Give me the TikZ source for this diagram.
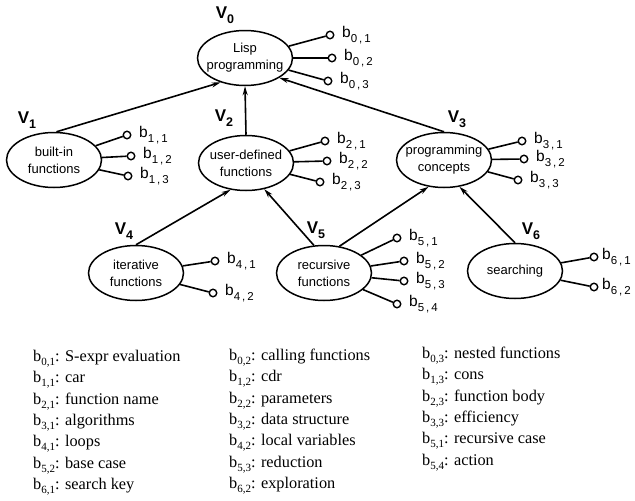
\documentclass[tikz,border=0pt]{standalone}
\usepackage{fontspec}
\setmainfont{Liberation Serif}
\setsansfont{Liberation Sans}
\usetikzlibrary{positioning,arrows.meta,shapes.geometric}

\newcommand{\attrb}[2]{b\raisebox{-5.5pt}{\fontsize{11.5}{11.5}\selectfont #1\hspace{2pt},\hspace{2pt}#2}}
\newcommand{\vname}[1]{V\raisebox{-4.5pt}{\fontsize{12.5}{12.5}\selectfont #1}}
\newcommand{\legb}[2]{b\raisebox{-4pt}{\fontsize{11}{11}\selectfont #1,#2}}

\begin{document}
\begin{tikzpicture}[
  x=1pt, y=-1pt,
  every node/.style={align=center},
  concept/.style={ellipse, draw, line width=1.5pt, minimum width=95pt, minimum height=55pt,
                  inner xsep=-7pt, inner ysep=0pt, font=\sffamily\fontsize{13}{17}\selectfont},
  vlab/.style  ={inner sep=0pt, font=\sffamily\bfseries\fontsize{17}{17}\selectfont},
  port/.style  ={circle, draw, line width=1.4pt, minimum size=7.5pt, inner sep=0pt, fill=white},
  blab/.style  ={anchor=base west, inner sep=0pt, font=\sffamily\fontsize{15.5}{15.5}\selectfont},
  attr/.style  ={line width=1.6pt},
  link/.style  ={-{Stealth[length=9pt,width=5pt]}, line width=1.6pt},
  legend/.style={anchor=north west, align=left, inner sep=0pt,
                 font=\fontsize{16.3}{21.3}\selectfont},
]
\useasboundingbox (0,0) rectangle (635,501);

% concept nodes
\node[concept] (v0) at (245,58)  {Lisp\\ programming};
\node[concept] (v1) at (54,160)  {built-in\\ functions};
\node[concept] (v2) at (246,163) {user-defined\\ functions};
\node[concept] (v3) at (444,160) {programming\\ concepts};
\node[concept] (v4) at (136,273) {iterative\\ functions};
\node[concept] (v5) at (324,273) {recursive\\ functions};
\node[concept] (v6) at (515,271) {searching};

\node[vlab] (v0l) at (225,15)  {\vname{0}};
\node[vlab] (v1l) at (27,120)  {\vname{1}};
\node[vlab] (v2l) at (224,118) {\vname{2}};
\node[vlab] (v3l) at (457,119) {\vname{3}};
\node[vlab] (v4l) at (124,231) {\vname{4}};
\node[vlab] (v5l) at (316,230) {\vname{5}};
\node[vlab] (v6l) at (531,231) {\vname{6}};

% attributes
\node[port] (b01) at (330,35)  {};
\node[port] (b02) at (332,58)  {};
\node[port] (b03) at (328,81)  {};
\node[port] (b11) at (127,135) {};
\node[port] (b12) at (131,156) {};
\node[port] (b13) at (128,176) {};
\node[port] (b21) at (325,141) {};
\node[port] (b22) at (327,161) {};
\node[port] (b23) at (320,182) {};
\node[port] (b31) at (522,141) {};
\node[port] (b32) at (524,159) {};
\node[port] (b33) at (518,180) {};
\node[port] (b41) at (215,261) {};
\node[port] (b42) at (213,293) {};
\node[port] (b51) at (397,238) {};
\node[port] (b52) at (404,261) {};
\node[port] (b53) at (404,281) {};
\node[port] (b54) at (397,304) {};
\node[port] (b61) at (594,257) {};
\node[port] (b62) at (594,287) {};

\node[blab] (b01l) at ([xshift=12pt,yshift=-2pt]b01.center) {\attrb{0}{1}};
\node[blab] (b02l) at ([xshift=12pt,yshift=-2pt]b02.center) {\attrb{0}{2}};
\node[blab] (b03l) at ([xshift=12pt,yshift=-2pt]b03.center) {\attrb{0}{3}};
\node[blab] (b11l) at ([xshift=12pt,yshift=-2pt]b11.center) {\attrb{1}{1}};
\node[blab] (b12l) at ([xshift=12pt,yshift=-2pt]b12.center) {\attrb{1}{2}};
\node[blab] (b13l) at ([xshift=12pt,yshift=-2pt]b13.center) {\attrb{1}{3}};
\node[blab] (b21l) at ([xshift=12pt,yshift=-2pt]b21.center) {\attrb{2}{1}};
\node[blab] (b22l) at ([xshift=12pt,yshift=-2pt]b22.center) {\attrb{2}{2}};
\node[blab] (b23l) at ([xshift=12pt,yshift=-2pt]b23.center) {\attrb{2}{3}};
\node[blab] (b31l) at ([xshift=12pt,yshift=-2pt]b31.center) {\attrb{3}{1}};
\node[blab] (b32l) at ([xshift=12pt,yshift=-2pt]b32.center) {\attrb{3}{2}};
\node[blab] (b33l) at ([xshift=12pt,yshift=-2pt]b33.center) {\attrb{3}{3}};
\node[blab] (b41l) at ([xshift=12pt,yshift=-2pt]b41.center) {\attrb{4}{1}};
\node[blab] (b42l) at ([xshift=12pt,yshift=-2pt]b42.center) {\attrb{4}{2}};
\node[blab] (b51l) at ([xshift=12pt,yshift=-2pt]b51.center) {\attrb{5}{1}};
\node[blab] (b52l) at ([xshift=12pt,yshift=-2pt]b52.center) {\attrb{5}{2}};
\node[blab] (b53l) at ([xshift=12pt,yshift=-2pt]b53.center) {\attrb{5}{3}};
\node[blab] (b54l) at ([xshift=12pt,yshift=-2pt]b54.center) {\attrb{5}{4}};
\node[blab] (b61l) at ([xshift=8pt,yshift=-2pt]b61.center)  {\attrb{6}{1}};
\node[blab] (b62l) at ([xshift=8pt,yshift=-2pt]b62.center)  {\attrb{6}{2}};

\draw[attr] (v0) -- (b01);
\draw[attr] (v0) -- (b02);
\draw[attr] (v0) -- (b03);
\draw[attr] (v1) -- (b11);
\draw[attr] (v1) -- (b12);
\draw[attr] (v1) -- (b13);
\draw[attr] (v2) -- (b21);
\draw[attr] (v2) -- (b22);
\draw[attr] (v2) -- (b23);
\draw[attr] (v3) -- (b31);
\draw[attr] (v3) -- (b32);
\draw[attr] (v3) -- (b33);
\draw[attr] (v4) -- (b41);
\draw[attr] (v4) -- (b42);
\draw[attr] (v5) -- (b51);
\draw[attr] (v5) -- (b52);
\draw[attr] (v5) -- (b53);
\draw[attr] (v5) -- (b54);
\draw[attr] (v6) -- (b61);
\draw[attr] (v6) -- (b62);

% hierarchy
\draw[link] (v1.85)    -- (v0.225);
\draw[link] (v2.north) -- (v0.south);
\draw[link] (v3.north) -- (v0.330);
\draw[link] (v4.north) -- (v2.240);
\draw[link] (v5.110)   -- (v2.305);
\draw[link] (v5.60)    -- (v3.240);
\draw[link] (v6.north) -- (v3.300);

% legend
\node[legend] (leg1) at (33,350)
  {\legb{0}{1}: S-expr evaluation\\ \legb{1}{1}: car\\ \legb{2}{1}: function name\\
   \legb{3}{1}: algorithms\\ \legb{4}{1}: loops\\ \legb{5}{2}: base case\\
   \legb{6}{1}: search key};
\node[legend] (leg2) at (229,349)
  {\legb{0}{2}: calling functions\\ \legb{1}{2}: cdr\\ \legb{2}{2}: parameters\\
   \legb{3}{2}: data structure\\ \legb{4}{2}: local variables\\ \legb{5}{3}: reduction\\
   \legb{6}{2}: exploration};
\node[legend] (leg3) at (422,347)
  {\legb{0}{3}: nested functions\\ \legb{1}{3}: cons\\ \legb{2}{3}: function body\\
   \legb{3}{3}: efficiency\\ \legb{5}{1}: recursive case\\ \legb{5}{4}: action};

\end{tikzpicture}
\end{document}
